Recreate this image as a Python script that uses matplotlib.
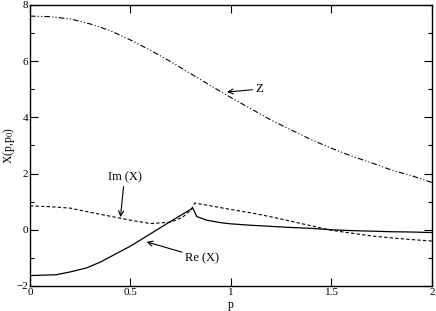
import numpy as np
import matplotlib.pyplot as plt
from matplotlib.ticker import MultipleLocator

plt.rcParams['font.family'] = ['Liberation Serif', 'DejaVu Serif']
plt.rcParams['mathtext.fontset'] = 'stix'

# Z curve
p_z = [0.0, 0.1, 0.2, 0.3, 0.4, 0.5, 0.6, 0.7, 0.8, 0.9, 1.0, 1.1, 1.2, 1.3, 1.4, 1.5, 1.6, 1.7, 1.8, 1.9, 2.0]
z = [7.6, 7.58, 7.5, 7.32, 7.08, 6.75, 6.38, 5.98, 5.55, 5.12, 4.7, 4.3, 3.9, 3.55, 3.2, 2.9, 2.62, 2.38, 2.12, 1.92, 1.68]

# Im (X)
p_im = [0.0, 0.1, 0.2, 0.3, 0.4, 0.5, 0.6, 0.7, 0.76, 0.8, 0.82, 0.9, 1.0, 1.1, 1.2, 1.3, 1.4, 1.5, 1.6, 1.7, 1.8, 1.9, 2.0]
im_x = [0.85, 0.82, 0.77, 0.62, 0.48, 0.34, 0.22, 0.27, 0.45, 0.7, 0.95, 0.85, 0.72, 0.6, 0.46, 0.3, 0.14, -0.02, -0.12, -0.22, -0.29, -0.35, -0.4]

# Re (X)
p_re = [0.0, 0.13, 0.2, 0.28, 0.35, 0.4, 0.5, 0.6, 0.7, 0.81, 0.83, 0.88, 0.95, 1.0, 1.1, 1.2, 1.3, 1.4, 1.5, 1.6, 1.7, 1.8, 1.9, 2.0]
re_x = [-1.63, -1.6, -1.5, -1.36, -1.15, -0.96, -0.58, -0.14, 0.3, 0.77, 0.47, 0.34, 0.25, 0.21, 0.16, 0.12, 0.08, 0.05, 0.0, -0.03, -0.05, -0.07, -0.08, -0.1]

fig = plt.figure(figsize=(4.36, 3.11), dpi=100)
ax = fig.add_axes([0.0688, 0.0804, 0.922, 0.904])

ax.plot(p_z, z, color='black', lw=0.8, dashes=[5, 2, 1, 2, 1, 2])
ax.plot(p_im, im_x, color='black', lw=0.8, dashes=[3, 2])
ax.plot(p_re, re_x, color='black', lw=0.9)

ax.set_xlim(0, 2)
ax.set_ylim(-2, 8)
ax.xaxis.set_major_locator(MultipleLocator(0.5))
ax.yaxis.set_major_locator(MultipleLocator(2))
ax.yaxis.set_minor_locator(MultipleLocator(1))
ax.tick_params(which='both', direction='in', top=True, right=True, labelsize=8, width=0.8, pad=1.5)
ax.tick_params(which='major', length=6)
ax.tick_params(which='minor', length=3)
ax.xaxis.set_major_formatter(plt.FuncFormatter(lambda v, _: f"{v:g}"))
for s in ax.spines.values():
    s.set_linewidth(1.0)

ax.set_xlabel('p', fontsize=8.5, va='center')
ax.set_ylabel(r'X(p,p$_0$)', fontsize=8.5, va='center')
ax.xaxis.set_label_coords(0.5, -0.067)
ax.yaxis.set_label_coords(-0.053, 0.5)

arrow = dict(arrowstyle='->', color='black', lw=0.8, shrinkA=0, shrinkB=0)
ax.annotate('Z', xy=(0.98, 4.9), xytext=(1.12, 5.0), fontsize=9,
            va='center', ha='left', arrowprops=arrow)
ax.annotate('Im (X)', xy=(0.45, 0.45), xytext=(0.47, 1.85), fontsize=9,
            va='center', ha='center', arrowprops=arrow)
ax.annotate('Re (X)', xy=(0.58, -0.43), xytext=(0.77, -1.0), fontsize=9,
            va='center', ha='left', arrowprops=arrow)

fig.savefig('out.png', dpi=100)
